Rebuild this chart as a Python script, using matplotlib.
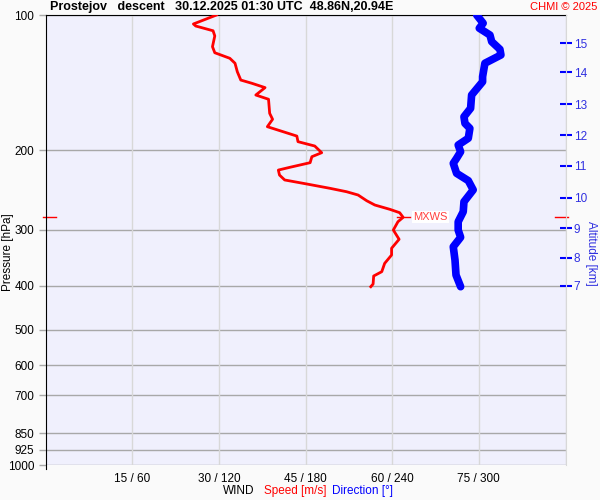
import numpy as np
import matplotlib
matplotlib.use('Agg')
import matplotlib.pyplot as plt
import matplotlib.transforms as mtransforms

plt.rcParams['font.family'] = ['Liberation Sans', 'DejaVu Sans']

# wind speed profile [m/s] vs pressure [hPa]
spd_p = [100, 104.7, 105.8, 108.4, 111.3, 117.6, 121.3, 124.8, 128.0, 133.7, 139.5, 141.8,
         145.0, 150.6, 153.9, 165.4, 170.5, 177.1, 180.8, 185.8, 191.2, 195.5, 202.3, 206.5,
         212.9, 218.0, 221.1, 226.8, 232.6, 237.4, 242.7, 247.0, 251.2, 258.7, 264.4, 270.3,
         275.0, 281.6, 288.0, 300.5, 315.1, 329.9, 341.5, 356.4, 371.9, 380.2, 396.1, 401.6]
speed = [29.6, 25.6, 26.0, 29.0, 29.3, 28.9, 29.3, 31.9, 32.8, 33.2, 33.8, 35.7,
         38.0, 36.4, 38.6, 38.8, 39.3, 38.4, 40.6, 43.5, 43.7, 46.6, 47.8, 46.1,
         45.8, 42.3, 40.3, 40.5, 41.4, 45.2, 49.2, 52.1, 54.1, 55.6, 57.0, 59.6,
         61.3, 61.9, 61.0, 60.2, 61.2, 59.9, 59.9, 58.7, 58.2, 56.8, 56.7, 56.3]

# wind direction profile [deg] vs pressure [hPa]
dir_p = [100, 104.3, 107.0, 110.8, 114.6, 119.2, 122.7, 128.0, 137.1, 140.7, 150.6, 161.2,
         168.3, 174.1, 178.6, 187.9, 194.5, 201.3, 208.2, 213.6, 224.8, 233.4, 244.7, 260.0,
         273.6, 288.0, 300.5, 311.9, 327.3, 350.4, 378.3, 401.6]
direction = [298.5, 303.0, 300.3, 307.7, 308.9, 314.6, 315.3, 304.2, 302.6, 302.6, 295.0, 294.3,
             289.7, 290.4, 293.8, 292.7, 285.7, 287.4, 284.6, 282.3, 284.6, 292.7, 296.1, 289.7,
             289.2, 285.7, 285.7, 287.4, 282.3, 283.5, 284.2, 287.4]

p_ticks = [100, 200, 300, 400, 500, 600, 700, 850, 925, 1000]
x_ticks = [15, 30, 45, 60, 75]
x_labels = ['15 / 60', '30 / 120', '45 / 180', '60 / 240', '75 / 300']
alt_km = [7, 8, 9, 10, 11, 12, 13, 14, 15]
alt_p = [400, 346.2, 297.8, 254.7, 216.3, 185.1, 157.8, 134.1, 115.6]

fig = plt.figure(figsize=(6, 5), dpi=100)
fig.patch.set_facecolor('#fafafa')
ax = fig.add_axes([45.5 / 600, 0.07, 520 / 600, 0.90])
ax.set_facecolor('#f0f0fd')

ax.set_yscale('log')
ax.set_ylim(1000, 100)
ax.set_xlim(0, 90)

# grid
for p in p_ticks:
    ax.axhline(p, color='#a8a8a8', lw=1, zorder=1)
for x in x_ticks + [90]:
    ax.axvline(x, color='#d8d8d8', lw=1, zorder=1)

ax.set_yticks(p_ticks)
ax.set_yticklabels([str(p) for p in p_ticks], fontsize=8.5)
ax.yaxis.set_minor_locator(matplotlib.ticker.NullLocator())
ax.tick_params(axis='y', length=5, width=1, color='#a8a8a8', pad=3)
ax.set_xticks(x_ticks)
ax.set_xticklabels(x_labels, fontsize=8.5)
ax.tick_params(axis='x', length=0, pad=6)

for s in ['right', 'bottom']:
    ax.spines[s].set_visible(False)
ax.spines['left'].set_color('black')
ax.spines['top'].set_color('black')
ax.spines['left'].set_bounds(1000 * 1.02, 100)

# profiles
ax.plot(speed, spd_p, color='red', lw=2, zorder=3)
ax.plot(np.array(direction) / 4, dir_p, color='blue', lw=5.5, zorder=3,
        solid_capstyle='round', solid_joinstyle='round')

# max wind
i = int(np.argmax(speed))
mx, pmx = speed[i], spd_p[i]
ax.plot([mx - 1, mx + 1.2], [pmx, pmx], color='red', lw=1, zorder=3)
ax.annotate('MXWS', xy=(mx, pmx), xytext=(7.5, 0), textcoords='offset points',
            color='#ff4040', fontsize=8, va='center', ha='left',
            bbox=dict(boxstyle='square,pad=0.1', fc='white', ec='none'), zorder=4)
blend = mtransforms.blended_transform_factory(ax.transAxes, ax.transData)
ax.plot([-0.004, 0.021], [pmx, pmx], color='red', lw=1, transform=blend, clip_on=False)
ax.plot([0.98, 1.005], [pmx, pmx], color='red', lw=1, transform=blend, clip_on=False)

# right altitude axis
ax2 = ax.twinx()
ax2.set_yscale('log')
ax2.set_ylim(1000, 100)
ax2.set_yticks(alt_p)
ax2.set_yticklabels([str(a) for a in alt_km], fontsize=8.5, color='#3030e0')
ax2.yaxis.set_minor_locator(matplotlib.ticker.NullLocator())
ax2.tick_params(axis='y', length=8, width=1.5, color='blue', direction='inout', pad=2)
for s in ['left', 'top', 'bottom']:
    ax2.spines[s].set_visible(False)
ax2.spines['right'].set_color('#d8d8d8')
ax2.spines['right'].set_bounds(1000, 100)

# labels
fig.text(8 / 600, 1 - 252 / 500, 'Pressure [hPa]', rotation=90, fontsize=8.5,
         ha='center', va='center')
fig.text(591 / 600, 1 - 253 / 500, 'Altitude [km]', rotation=-90, fontsize=8.5,
         color='#3030e0', ha='center', va='center')
fig.text(50 / 600, 1 - 7 / 500,
         'Prostejov   descent   30.12.2025 01:30 UTC  48.86N,20.94E',
         fontsize=9, fontweight='bold', ha='left', va='center')
fig.text(597 / 600, 1 - 7 / 500, 'CHMI © 2025', fontsize=8, color='red',
         ha='right', va='center')
fig.text(254 / 600, 1 - 491 / 500, 'WIND', fontsize=8.5, ha='right', va='center')
fig.text(264 / 600, 1 - 491 / 500, 'Speed [m/s]', fontsize=8.5, color='red',
         ha='left', va='center')
fig.text(332 / 600, 1 - 491 / 500, 'Direction [°]', fontsize=8.5, color='blue',
         ha='left', va='center')

fig.savefig('out.png', dpi=100, facecolor=fig.get_facecolor())
